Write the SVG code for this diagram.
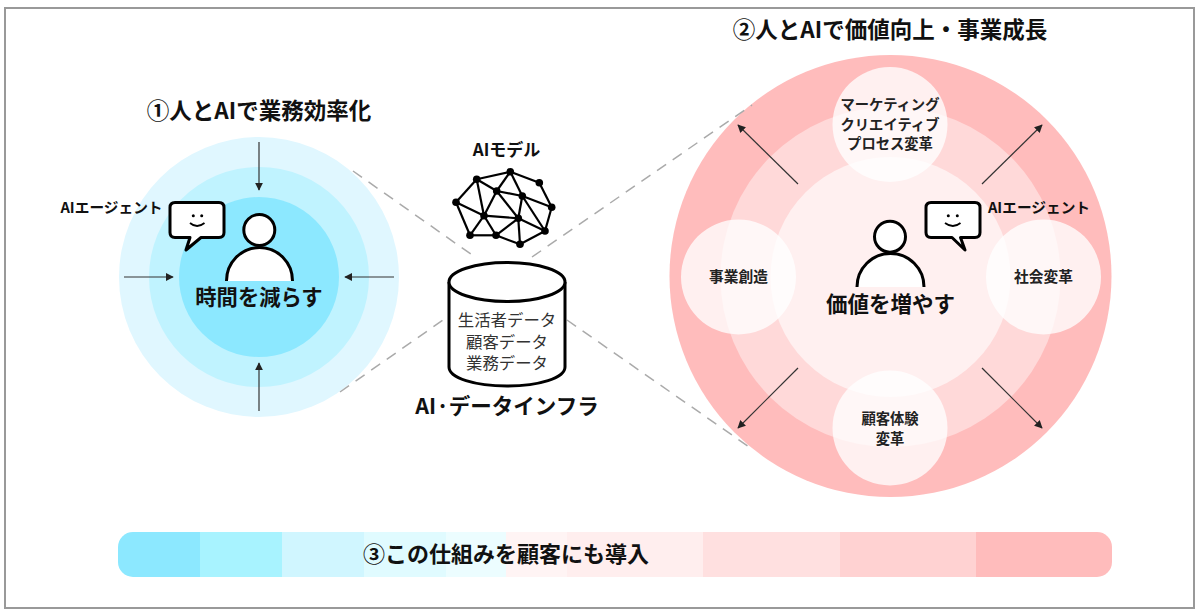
<svg xmlns="http://www.w3.org/2000/svg" width="1200" height="616" viewBox="0 0 1200 616">
<defs>
<style>
text{font-family:"Noto Sans CJK JP","Noto Sans",sans-serif;text-anchor:middle;fill:#111;}
.b{font-weight:700}
.title{font-size:22.500px;font-weight:700}
.sat{font-size:14.300px;font-weight:700;fill:#222}
.ag{font-size:14.700px;font-weight:700}
.ico{fill:#fff;stroke:#000;stroke-width:3}
.dash{stroke:#aaa;stroke-width:1.500;stroke-dasharray:11 8;fill:none}
.arr{stroke:#333;stroke-width:1.200;fill:none;marker-end:url(#ah)}
.net line{stroke:#000;stroke-width:2.200}
.net circle{fill:#000}
.sc{fill:#fff;fill-opacity:.78}
</style>
<marker id="ah" viewBox="0 0 10 10" refX="9" refY="5" markerWidth="8" markerHeight="8" markerUnits="userSpaceOnUse" orient="auto"><path d="M0 0L10 5L0 10Z" fill="#222"/></marker>
<clipPath id="barclip"><rect x="118" y="532" width="994" height="45" rx="15"/></clipPath>
</defs>
<rect width="1200" height="616" fill="#fff"/>
<rect id="frame" x="5" y="8" width="1189" height="600" fill="none" stroke="#999" stroke-width="2"/>
<g id="left-circle">
<circle cx="259" cy="277" r="140" fill="#e0f7ff"/>
<circle cx="259" cy="277" r="110" fill="#c0f3ff"/>
<circle cx="259" cy="277" r="80" fill="#8ce8ff"/>
</g>
<g id="right-circle">
<circle cx="890.500" cy="276" r="221" fill="#ffbcbc"/>
<circle cx="890.500" cy="277" r="170" fill="#ffd9d9"/>
<circle cx="890.500" cy="277" r="120" fill="#fff0f0"/>
</g>
<g id="sat-top"><circle class="sc" cx="890" cy="124.500" r="57.500"/><text class="sat" x="890" y="110">マーケティング<tspan x="890" dy="19.500">クリエイティブ</tspan><tspan x="890" dy="19.500">プロセス変革</tspan></text></g>
<g id="sat-bottom"><circle class="sc" cx="890" cy="428" r="57.500"/><text class="sat" x="890" y="424">顧客体験<tspan x="890" dy="19.500">変革</tspan></text></g>
<g id="sat-left"><circle class="sc" cx="738.500" cy="277" r="57.500"/><text class="sat" x="738.500" y="282" style="font-size:14.700px">事業創造</text></g>
<g id="sat-right"><circle class="sc" cx="1043.500" cy="277" r="57.500"/><text class="sat" x="1043.500" y="282" style="font-size:14.700px">社会変革</text></g>
<g id="connectors">
<path class="dash" d="M353 171L475 257"/>
<path class="dash" d="M340 392L443 320"/>
<path class="dash" d="M532 257L752 105"/>
<path class="dash" d="M567 320L752 449"/>
<path class="arr" d="M259 142V190"/>
<path class="arr" d="M124 277H173"/>
<path class="arr" d="M394 277H345"/>
<path class="arr" d="M259 411V363"/>
<path class="arr" d="M798 184L738 125"/>
<path class="arr" d="M982 184L1042 125"/>
<path class="arr" d="M798 368L738 428"/>
<path class="arr" d="M982 368L1042 428"/>
</g>
<g id="title-1"><text class="title" x="259" y="119">①人とAIで業務効率化</text></g>
<g id="title-2"><text class="title" x="890" y="38">②人とAIで価値向上・事業成長</text></g>
<g id="person-left">
<circle class="ico" cx="259.300" cy="230" r="15.500"/>
<path d="M226.500 281A33 33.500 0 0 1 292.500 281Z" fill="#fff"/>
<path d="M226.500 281A33 33.500 0 0 1 292.500 281" fill="none" stroke="#000" stroke-width="3"/>
<text class="b" x="259" y="305" font-size="21.300">時間を減らす</text>
</g>
<g id="bubble-left">
<path class="ico" d="M175 202.500H219Q224 202.500 224 207.500V232.500Q224 237.500 219 237.500H201L186 250L190 237.500H175Q170 237.500 170 232.500V207.500Q170 202.500 175 202.500Z" stroke-linejoin="round"/>
<circle cx="193.300" cy="215.700" r="1.500"/><circle cx="201.700" cy="215.700" r="1.500"/>
<path d="M190 223Q197 229 204.500 223" fill="none" stroke="#000" stroke-width="1.800"/>
</g>
<text id="agent-left" class="ag" x="111.500" y="213">AIエージェント</text>
<g id="person-right">
<circle class="ico" cx="890" cy="236.700" r="15.500"/>
<path d="M857 287A33.500 33.500 0 0 1 924 287Z" fill="#fff"/>
<path d="M857 287A33.500 33.500 0 0 1 924 287" fill="none" stroke="#000" stroke-width="3"/>
<text class="b" x="890.500" y="312" font-size="21.500">価値を増やす</text>
</g>
<g id="bubble-right">
<path class="ico" d="M931 202.500H975Q980 202.500 980 207.500V232.500Q980 237.500 975 237.500H960.500L965 250L952 237.500H931Q926 237.500 926 232.500V207.500Q926 202.500 931 202.500Z" stroke-linejoin="round"/>
<circle cx="948.300" cy="215.700" r="1.500"/><circle cx="957.300" cy="215.700" r="1.500"/>
<path d="M945 223Q953 229 960.500 223" fill="none" stroke="#000" stroke-width="1.800"/>
</g>
<text id="agent-right" class="ag" x="1039" y="213">AIエージェント</text>
<g id="ai-model">
<text class="b" x="506.500" y="156" font-size="17">AIモデル</text>
<g class="net">
<line x1="476.700" y1="179.300" x2="510.300" y2="171.700"/><line x1="510.300" y1="171.700" x2="539.300" y2="182.700"/><line x1="539.300" y1="182.700" x2="551.700" y2="207.300"/><line x1="551.700" y1="207.300" x2="545" y2="231"/><line x1="545" y1="231" x2="520" y2="244.300"/><line x1="520" y1="244.300" x2="496" y2="235.300"/><line x1="496" y1="235.300" x2="470" y2="235.300"/><line x1="470" y1="235.300" x2="456" y2="202.300"/><line x1="456" y1="202.300" x2="476.700" y2="179.300"/>
<line x1="476.700" y1="179.300" x2="496.700" y2="191"/><line x1="510.300" y1="171.700" x2="496.700" y2="191"/><line x1="510.300" y1="171.700" x2="522.300" y2="196"/><line x1="496.700" y1="191" x2="522.300" y2="196"/><line x1="522.300" y1="196" x2="551.700" y2="207.300"/><line x1="522.300" y1="196" x2="545" y2="231"/><line x1="522.300" y1="196" x2="518.300" y2="218.300"/><line x1="496.700" y1="191" x2="518.300" y2="218.300"/><line x1="476.700" y1="179.300" x2="484" y2="215.700"/><line x1="456" y1="202.300" x2="484" y2="215.700"/><line x1="470" y1="235.300" x2="484" y2="215.700"/><line x1="484" y1="215.700" x2="496" y2="235.300"/><line x1="484" y1="215.700" x2="518.300" y2="218.300"/><line x1="496.700" y1="191" x2="484" y2="215.700"/><line x1="518.300" y1="218.300" x2="496" y2="235.300"/><line x1="518.300" y1="218.300" x2="520" y2="244.300"/><line x1="518.300" y1="218.300" x2="545" y2="231"/>
<circle cx="476.700" cy="179.300" r="3.800"/><circle cx="510.300" cy="171.700" r="3.800"/><circle cx="539.300" cy="182.700" r="3.800"/><circle cx="551.700" cy="207.300" r="3.800"/><circle cx="545" cy="231" r="3.800"/><circle cx="520" cy="244.300" r="3.800"/><circle cx="496" cy="235.300" r="3.800"/><circle cx="470" cy="235.300" r="3.800"/><circle cx="456" cy="202.300" r="3.800"/><circle cx="496.700" cy="191" r="3.800"/><circle cx="522.300" cy="196" r="3.800"/><circle cx="484" cy="215.700" r="3.800"/><circle cx="518.300" cy="218.300" r="3.800"/>
</g>
</g>
<g id="database">
<path d="M449 282V367C449 378 475 386 507 386C539 386 565 378 565 367V282" fill="#fff" stroke="#000" stroke-width="3"/>
<ellipse cx="507" cy="282" rx="58" ry="19.500" fill="#fff" stroke="#000" stroke-width="3"/>
<text x="507" y="326" font-size="16.400" style="fill:#333">生活者データ<tspan x="507" dy="21.500">顧客データ</tspan><tspan x="507" dy="21.500">業務データ</tspan></text>
<text class="b" x="507" y="414" font-size="21.500">AI·データインフラ</text>
</g>
<g id="bar">
<g clip-path="url(#barclip)">
<rect x="118" y="532" width="82" height="45" fill="#8ce8ff"/>
<rect x="200" y="532" width="82" height="45" fill="#a8f3ff"/>
<rect x="282" y="532" width="82" height="45" fill="#d0f6ff"/>
<rect x="364" y="532" width="82" height="45" fill="#e0fbff"/>
<rect x="446" y="532" width="60" height="45" fill="#ecfdff"/>
<rect x="506" y="532" width="61" height="45" fill="#fff4f4"/>
<rect x="567" y="532" width="136" height="45" fill="#ffeeee"/>
<rect x="703" y="532" width="137" height="45" fill="#ffe0e0"/>
<rect x="840" y="532" width="136" height="45" fill="#ffd2d2"/>
<rect x="976" y="532" width="136" height="45" fill="#ffbcbc"/>
</g>
<text class="b" x="506" y="562" font-size="22">③この仕組みを顧客にも導入</text>
</g>
</svg>
